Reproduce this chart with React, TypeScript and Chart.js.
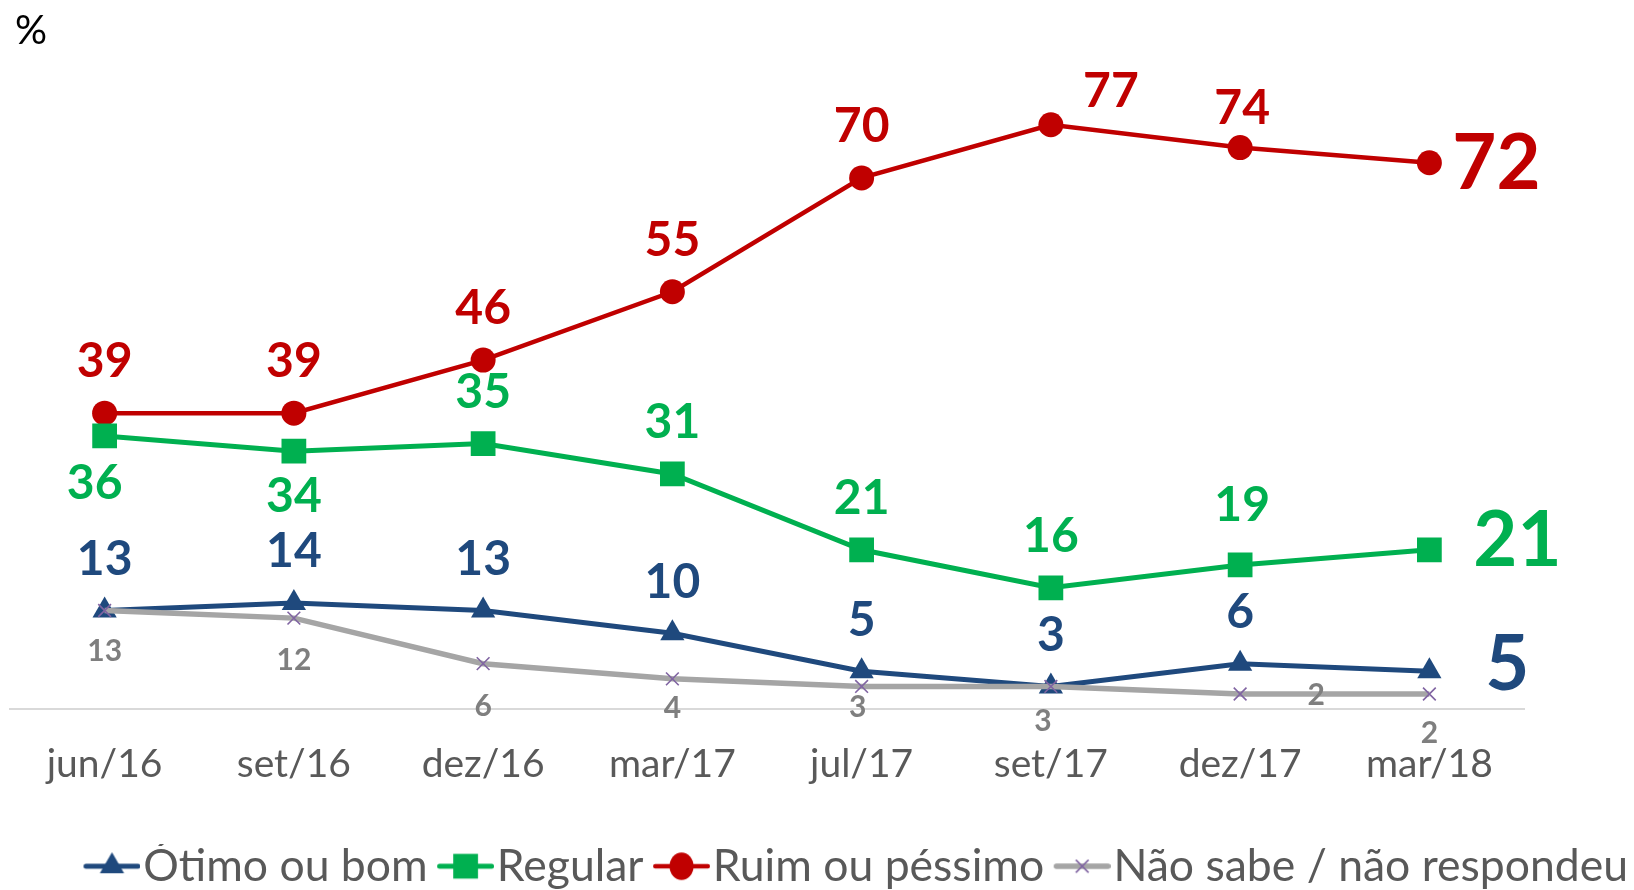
import React, { useEffect, useRef } from 'react';
import { Chart, registerables } from 'chart.js';

Chart.register(...registerables);

// ---------- data ----------
const categories = ['jun/16', 'set/16', 'dez/16', 'mar/17', 'jul/17', 'set/17', 'dez/17', 'mar/18'];
const otimoBom = [13, 14, 13, 10, 5, 3, 6, 5];
const regular = [36, 34, 35, 31, 21, 16, 19, 21];
const ruimPessimo = [39, 39, 46, 55, 70, 77, 74, 72];
const naoSabe = [13, 12, 6, 4, 3, 3, 2, 2];
const seriesNames = ['Ótimo ou bom', 'Regular', 'Ruim ou péssimo', 'Não sabe / não respondeu'];
const yMin = 0;
const yMax = 80;
const unitLabel = '%';

// ---------- styles ----------
const FONT = 'Lato, "Open Sans", sans-serif';
const BLUE = '#1F497D';
const GREEN = '#00B050';
const RED = '#C00000';
const GRAY = '#A5A5A5';
const PURPLE = '#8064A2';
const GRAY_TEXT = '#7F7F7F';
const AXIS_TEXT = '#595959';

const BIG = 76;
const MID = 48;
const SMALL = 30;

// label placement per point: [dx, dy, fontSize] relative to the point
const otimoPlace = [[0, -53, MID], [0, -53, MID], [0, -53, MID], [0, -53, MID], [0, -53, MID], [0, -53, MID], [0, -53, MID], [78, -9, BIG]];
const regularPlace = [[-10, 46, MID], [0, 44, MID], [0, -53, MID], [0, -53, MID], [0, -53, MID], [0, -53, MID], [2, -61, MID], [88, -11, BIG]];
const ruimPlace = [[0, -53, MID], [0, -53, MID], [0, -53, MID], [0, -53, MID], [0, -53, MID], [60, -35, MID], [2, -41, MID], [67, -1, BIG]];
const naoPlace = [[0, 40, SMALL], [0, 41, SMALL], [0, 42, SMALL], [0, 28, SMALL], [-4, 20, SMALL], [-8, 34, SMALL], [76, 0, SMALL], [0, 38, SMALL]];
const placements = [otimoPlace, regularPlace, ruimPlace, naoPlace];
const labelColors = [BLUE, GREEN, RED, GRAY_TEXT];

const ICON_W = 86;
const ICON_LINE = 57;

function makeIcon(color: string, lw: number, style: string, r: number, border?: string) {
  const c = document.createElement('canvas');
  c.width = ICON_W;
  c.height = 38;
  const g = c.getContext('2d') as CanvasRenderingContext2D;
  const y = 19;
  const xs = ICON_W - ICON_LINE;
  const xe = ICON_W;
  const cx = (xs + xe) / 2;
  g.strokeStyle = color;
  g.lineWidth = lw;
  g.lineCap = 'round';
  g.beginPath();
  g.moveTo(xs + lw / 2, y);
  g.lineTo(xe - lw / 2, y);
  g.stroke();
  g.fillStyle = color;
  if (style === 'circle') {
    g.beginPath();
    g.ellipse(cx, y, r, r * 1.15, 0, 0, Math.PI * 2);
    g.fill();
  } else if (style === 'rect') {
    const s = r * Math.SQRT1_2;
    g.fillRect(cx - s, y - s, 2 * s, 2 * s);
  } else if (style === 'triangle') {
    g.beginPath();
    g.moveTo(cx, y - r);
    g.lineTo(cx + Math.sin((2 * Math.PI) / 3) * r, y + 0.5 * r);
    g.lineTo(cx - Math.sin((2 * Math.PI) / 3) * r, y + 0.5 * r);
    g.closePath();
    g.fill();
  } else if (style === 'crossRot') {
    const d = r * Math.SQRT1_2;
    g.strokeStyle = border || color;
    g.lineWidth = 1.6;
    g.lineCap = 'butt';
    g.beginPath();
    g.moveTo(cx - d, y - d);
    g.lineTo(cx + d, y + d);
    g.moveTo(cx - d, y + d);
    g.lineTo(cx + d, y - d);
    g.stroke();
  }
  return c;
}

const valueLabelPlugin = {
  id: 'valueLabels',
  afterDatasetsDraw(chart: any) {
    const ctx = chart.ctx as CanvasRenderingContext2D;
    chart.data.datasets.forEach((ds: any, di: number) => {
      const meta = chart.getDatasetMeta(di);
      const place = placements[di];
      meta.data.forEach((el: any, i: number) => {
        const p = place[i];
        if (!p) return;
        const [dx, dy, size] = p;
        ctx.save();
        ctx.font = `bold ${size}px ${FONT}`;
        ctx.fillStyle = labelColors[di];
        ctx.textAlign = 'center';
        ctx.textBaseline = 'alphabetic';
        ctx.fillText(String(ds.data[i]), el.x + dx, el.y + dy + size * 0.36);
        ctx.restore();
      });
    });
  },
  afterDraw(chart: any) {
    const ctx = chart.ctx as CanvasRenderingContext2D;
    ctx.save();
    ctx.font = `40px ${FONT}`;
    ctx.fillStyle = '#000000';
    ctx.textAlign = 'left';
    ctx.textBaseline = 'alphabetic';
    ctx.fillText(unitLabel, 15, 44);
    ctx.restore();
  },
};

export default function App() {
  const ref = useRef<HTMLCanvasElement | null>(null);

  useEffect(() => {
    if (!ref.current) return;
    const icons = [
      makeIcon(BLUE, 5, 'triangle', 14),
      makeIcon(GREEN, 5, 'rect', 17.5),
      makeIcon(RED, 4.5, 'circle', 12),
      makeIcon(GRAY, 5.5, 'crossRot', 9, PURPLE),
    ];
    const chart = new Chart(ref.current, {
      type: 'line',
      data: {
        labels: categories,
        datasets: [
          {
            label: seriesNames[0],
            data: otimoBom,
            borderColor: BLUE,
            backgroundColor: BLUE,
            borderWidth: 5,
            pointStyle: 'triangle',
            pointRadius: 14,
            pointBackgroundColor: BLUE,
            pointBorderColor: BLUE,
            pointBorderWidth: 0,
            tension: 0,
            order: 1,
          },
          {
            label: seriesNames[1],
            data: regular,
            borderColor: GREEN,
            backgroundColor: GREEN,
            borderWidth: 5,
            pointStyle: 'rect',
            pointRadius: 17.5,
            pointBackgroundColor: GREEN,
            pointBorderColor: GREEN,
            pointBorderWidth: 0,
            tension: 0,
            order: 1,
          },
          {
            label: seriesNames[2],
            data: ruimPessimo,
            borderColor: RED,
            backgroundColor: RED,
            borderWidth: 4.5,
            pointStyle: 'circle',
            pointRadius: 12.5,
            pointBackgroundColor: RED,
            pointBorderColor: RED,
            pointBorderWidth: 0,
            tension: 0,
            order: 1,
          },
          {
            label: seriesNames[3],
            data: naoSabe,
            borderColor: GRAY,
            backgroundColor: GRAY,
            borderWidth: 5.5,
            pointStyle: 'crossRot',
            pointRadius: 9,
            pointBackgroundColor: PURPLE,
            pointBorderColor: PURPLE,
            pointBorderWidth: 1.6,
            tension: 0,
            order: 0,
          },
        ],
      },
      options: {
        animation: false,
        responsive: false,
        events: [],
        layout: { autoPadding: false, padding: { top: 102, left: 10, right: 6, bottom: 0 } },
        scales: {
          x: {
            type: 'category',
            offset: true,
            grid: { display: false, drawTicks: false },
            border: { display: true, color: '#D9D9D9', width: 2 },
            ticks: {
              font: { family: FONT, size: 39 },
              color: AXIS_TEXT,
              padding: 32,
              maxRotation: 0,
              autoSkip: false,
            },
            afterFit: (s: any) => {
              s.height += 24;
            },
          },
          y: {
            position: 'right',
            min: yMin,
            max: yMax,
            grid: { display: false, drawTicks: false },
            border: { display: false },
            ticks: { display: false },
            afterFit: (s: any) => {
              s.width = 104;
            },
          },
        },
        plugins: {
          tooltip: { enabled: false },
          legend: {
            position: 'bottom',
            align: 'end',
            maxHeight: 46,
            labels: {
              usePointStyle: true,
              pointStyleWidth: 47,
              padding: 0,
              color: AXIS_TEXT,
              font: { family: FONT, size: 44.5 },
              generateLabels: (c: any) =>
                c.data.datasets.map((ds: any, i: number) => ({
                  text: ds.label,
                  pointStyle: icons[i],
                  fillStyle: ds.borderColor,
                  strokeStyle: ds.borderColor,
                  lineWidth: 0,
                  hidden: false,
                  datasetIndex: i,
                  fontColor: AXIS_TEXT,
                })),
            },
          },
        },
      },
      plugins: [valueLabelPlugin],
    } as any);
    return () => chart.destroy();
  }, []);

  return (
    <div style={{ position: 'absolute', left: 0, top: 0, width: 1634, height: 890, background: '#ffffff' }}>
      <canvas ref={ref} width={1634} height={890} style={{ display: 'block', width: 1634, height: 890 }} />
    </div>
  );
}
